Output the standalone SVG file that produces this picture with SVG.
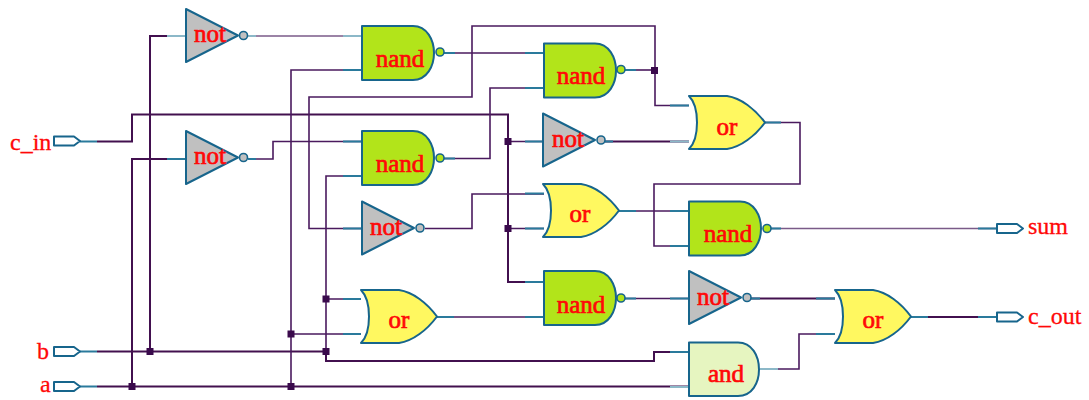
<svg xmlns="http://www.w3.org/2000/svg" width="1089" height="400" viewBox="0 0 1089 400">
<style>
text{font-family:"Liberation Serif","Times New Roman",serif;fill:#ff0808}
.g{font-size:25px;text-anchor:middle;stroke:#ff0808;stroke-width:.7}
.p{font-size:24px;stroke:#ff0808;stroke-width:.3}
.s{stroke:#17658c;stroke-width:2;stroke-linejoin:round}
.nand{fill:#b2e41a}.or{fill:#fff860}.not{fill:#c0c0c0}.and{fill:#e6f5c0}.port{fill:#fff}
.b{stroke:#17658c;stroke-width:1.6}
.w{fill:none;stroke:#4a1a5e;stroke-width:1.6}
.h{stroke-width:2;stroke:#42104f}
.l{stroke:#7a5a88;stroke-width:1.4}
.t{fill:none;stroke:#2a7a9c;stroke-width:2}
.u{fill:none;stroke:#8cb8c8;stroke-width:2}
.j{fill:#3a0a4c}
</style>
<defs>
<path id="nandS" d="M0,0H51C65,0 72,14 72,27C72,40 65,54 51,54H0Z"/>
<path id="orS" d="M0,0H38C52,2 66,13 76,26.500C66,40 52,51 38,53H0C5,48 8,38 8,26.500C8,15 5,5 0,0Z"/>
<path id="notS" d="M0,0L52,26.500L0,53Z"/>
<path id="portS" d="M0,0H20L26,4.500L20,9H0Z"/>
</defs>
<g id="connectors">
<path class="w h" d="M97,141.500H132V114.500H508V282H544"/>
<path class="w" d="M508,141.500H544M508,228.500H544"/>
<path class="w h" d="M97,351.500H326V361H654V352H689"/>
<path class="w h" d="M150,351.500V36H186"/>
<path class="w" d="M326,351.500V176H362M326,299H361"/>
<path class="w h" d="M97,386.500H689"/>
<path class="w h" d="M132,386.500V159H186"/>
<path class="w" d="M291,386.500V70H362M291,334H361"/>
<path class="w l" d="M248,36H362"/>
<path class="w" d="M248,159H273V141.500H362"/>
<path class="w" d="M444,53H544"/>
<path class="w" d="M444,158.500H490V88H544"/>
<path class="w" d="M362,228.500H309V97H472V26H655V105.500H689"/>
<path class="w" d="M625,70H654"/>
<path class="w h" d="M605,141.500H689"/>
<path class="w" d="M425,228.500H472V194H544"/>
<path class="w" d="M619,211H689"/>
<path class="w" d="M765,122.500H800V184H654V246H689"/>
<path class="w" d="M437,317H544"/>
<path class="w" d="M625,298.500H689"/>
<path class="w h" d="M751,298.500H835"/>
<path class="w" d="M760,369H799V334H835"/>
<path class="w h" d="M911,317H997"/>
<path class="w l" d="M771,228.500H997"/>
<path class="t" d="M80,141.500H97M80,351.500H97M80,386.500H97M167,159H186M343,70H362M343,141.500H362M343,176H362M343,228.500H362M343,299H361M343,334H361M525,53H544M525,88H544M525,141.500H544M525,193.500H544M525,228.500H544M525,282H544M525,317H544M670,105.500H689M670,211H689M670,246H689M670,298.500H689M670,352H689M816,298.500H835M816,334H835M978,317H997M978,228.500H997M248,159H256M444,53H455M444,158.500H455M625,70H636M605,141.500H613M619,211H636M765,122.500H781M437,317H454M625,298.500H636M751,298.500H760M911,317H928M771,228.500H781"/>
<path class="u" d="M167,36H186M343,36H362M248,36H256M670,141.500H689M670,387H689M760,369H778"/>
<g class="j">
<rect x="504.500" y="138" width="7" height="7"/><rect x="504.500" y="225" width="7" height="7"/><rect x="651" y="67" width="7" height="7"/><rect x="146.500" y="348" width="7" height="7"/><rect x="322.500" y="348" width="7" height="7"/><rect x="322.500" y="295.500" width="7" height="7"/><rect x="287.500" y="330.500" width="7" height="7"/><rect x="287.500" y="383" width="7" height="7"/><rect x="128.500" y="383" width="7" height="7"/>
</g>
</g>
<g id="not1"><use href="#notS" x="186" y="9" class="s not"/><circle cx="243.500" cy="35.500" r="4" class="not b"/><text class="g" x="210" y="42">not</text></g>
<g id="not2"><use href="#notS" x="186" y="131" class="s not"/><circle cx="243.500" cy="157.500" r="4" class="not b"/><text class="g" x="210" y="164">not</text></g>
<g id="not3"><use href="#notS" x="543" y="113.500" class="s not"/><circle cx="601" cy="140" r="4" class="not b"/><text class="g" x="568" y="147">not</text></g>
<g id="not4"><use href="#notS" x="362" y="201.500" class="s not"/><circle cx="420" cy="228" r="4" class="not b"/><text class="g" x="386" y="235">not</text></g>
<g id="not5"><use href="#notS" x="689" y="271" class="s not"/><circle cx="747" cy="297.500" r="4" class="not b"/><text class="g" x="713" y="305">not</text></g>
<g id="nand1"><use href="#nandS" x="362" y="26" class="s nand"/><circle cx="440" cy="52" r="4" class="nand b"/><text class="g" x="400" y="67">nand</text></g>
<g id="nand2"><use href="#nandS" x="544" y="43.500" class="s nand"/><circle cx="621" cy="69.500" r="4" class="nand b"/><text class="g" x="581" y="84">nand</text></g>
<g id="nand3"><use href="#nandS" x="362" y="131" class="s nand"/><circle cx="440" cy="158" r="4" class="nand b"/><text class="g" x="400" y="172">nand</text></g>
<g id="nand4"><use href="#nandS" x="544" y="271" class="s nand"/><circle cx="621" cy="298" r="4" class="nand b"/><text class="g" x="581" y="313">nand</text></g>
<g id="nand5"><use href="#nandS" x="689" y="201.500" class="s nand"/><circle cx="767" cy="228.500" r="4" class="nand b"/><text class="g" x="728" y="242">nand</text></g>
<g id="or1"><use href="#orS" x="689" y="96" class="s or"/><text class="g" x="727" y="135">or</text></g>
<g id="or2"><use href="#orS" x="543" y="184" class="s or"/><text class="g" x="580" y="222">or</text></g>
<g id="or3"><use href="#orS" x="361" y="290" class="s or"/><text class="g" x="399" y="328">or</text></g>
<g id="or4"><use href="#orS" x="835" y="290" class="s or"/><text class="g" x="873" y="328">or</text></g>
<g id="and1"><path class="s and" d="M689,342.500H738C752,342.500 759,356 759,369.500C759,383 752,396 738,396H689Z"/><text class="g" x="726" y="382">and</text></g>
<g id="c_in"><use href="#portS" x="54" y="136.500" class="s port"/><text class="p" x="10" y="150">c_in</text></g>
<g id="b"><use href="#portS" x="54" y="347" class="s port"/><text class="p" x="37" y="359">b</text></g>
<g id="a"><use href="#portS" x="54" y="382" class="s port"/><text class="p" x="40" y="392">a</text></g>
<g id="sum"><use href="#portS" x="997" y="224" class="s port"/><text class="p" x="1028" y="234">sum</text></g>
<g id="c_out"><use href="#portS" x="997" y="312.500" class="s port"/><text class="p" x="1028" y="324">c_out</text></g>
</svg>
